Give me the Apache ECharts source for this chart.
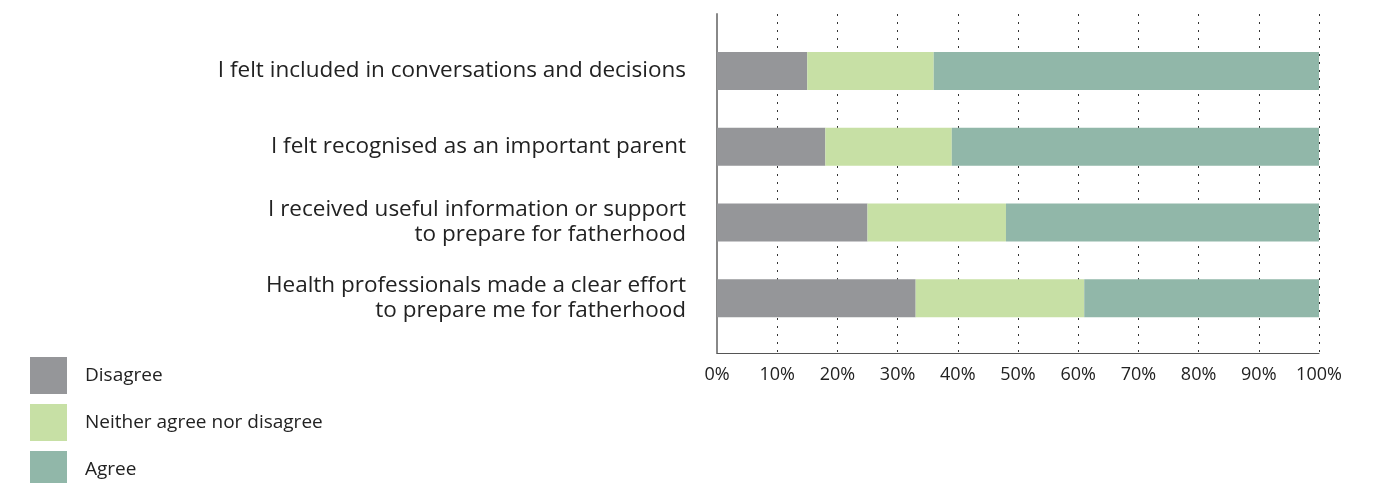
<!DOCTYPE html>
<html>
<head>
<meta charset="utf-8">
<script src="https://cdn.jsdelivr.net/npm/echarts@6/dist/echarts.min.js"></script>
<style>
  html, body { margin: 0; padding: 0; background: #fff; }
  #chart { width: 1373px; height: 483px; }
</style>
</head>
<body>
<div id="chart"></div>
<script>
// Survey statements (top to bottom)
const statements = [
  'I felt included in conversations and decisions',
  'I felt recognised as an important parent',
  'I received useful information or support\nto prepare for fatherhood',
  'Health professionals made a clear effort\nto prepare me for fatherhood'
];

// Share of respondents (%) per statement
const disagree = [15, 18, 25, 33];
const neither  = [21, 21, 23, 28];
const agree    = [64, 61, 52, 39];

const seriesNames = ['Disagree', 'Neither agree nor disagree', 'Agree'];
const seriesColors = ['#959699', '#c7e0a5', '#91b7a9'];

const FONT = '"Open Sans", sans-serif';

const chart = echarts.init(document.getElementById('chart'));

const values = [disagree, neither, agree];

chart.setOption({
  animation: false,
  backgroundColor: '#ffffff',
  legend: {
    orient: 'vertical',
    left: 30,
    top: 357,
    height: 200,
    padding: 0,
    itemWidth: 37,
    itemHeight: 37,
    itemGap: 10,
    icon: 'rect',
    textStyle: { fontFamily: FONT, fontSize: 19, color: '#222', padding: [0, 0, 0, 13] },
    data: seriesNames
  },
  grid: [
    // bars and statement labels
    { left: 717, right: 54, top: 33, height: 303, containLabel: false },
    // frame: axis lines, dotted gridlines and percentage ticks
    { left: 717, right: 54, top: 14, bottom: 130, containLabel: false }
  ],
  xAxis: [
    { gridIndex: 0, type: 'value', min: 0, max: 100, show: false },
    {
      gridIndex: 1, type: 'value', min: 0, max: 100, interval: 10,
      axisLine: { show: true, lineStyle: { color: '#555', width: 1 } },
      axisTick: { show: false },
      axisLabel: {
        formatter: '{value}%', fontFamily: FONT, fontSize: 18, color: '#222', margin: 13
      },
      splitLine: {
        show: true,
        lineStyle: { color: '#333', width: 1, type: [2, 6] }
      }
    }
  ],
  yAxis: [
    {
      gridIndex: 0, type: 'category', inverse: true, data: statements,
      axisLine: { show: false },
      axisTick: { show: false },
      axisLabel: {
        fontFamily: FONT, fontSize: 22.5, color: '#222', margin: 31,
        align: 'right', lineHeight: 25
      }
    },
    {
      gridIndex: 1, type: 'value', min: 0, max: 1,
      axisLine: { show: true, lineStyle: { color: '#888', width: 2 } },
      axisTick: { show: false },
      axisLabel: { show: false },
      splitLine: { show: false }
    }
  ],
  series: seriesNames.map((name, i) => ({
    name: name,
    type: 'bar',
    stack: 'total',
    xAxisIndex: 0,
    yAxisIndex: 0,
    barWidth: 38,
    itemStyle: { color: seriesColors[i] },
    data: values[i]
  }))
});
</script>
</body>
</html>
